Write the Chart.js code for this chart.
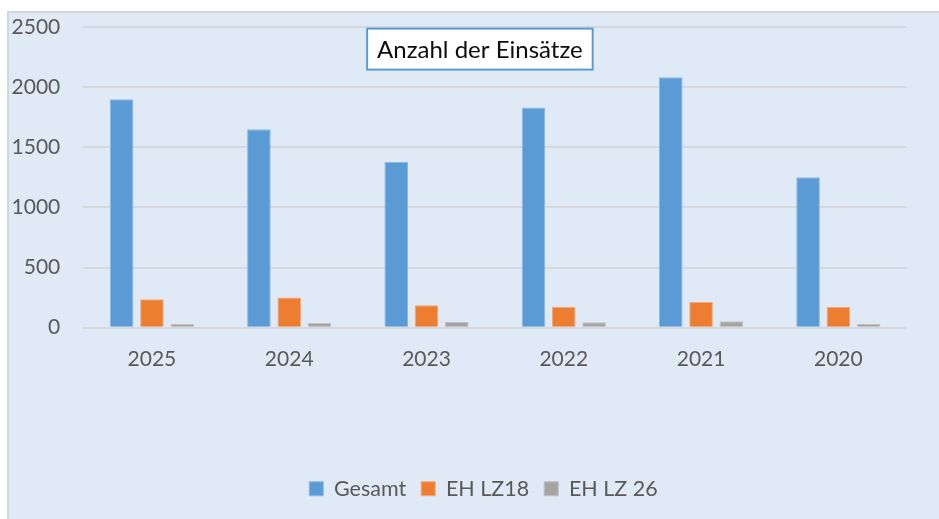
<!DOCTYPE html>
<html><head><meta charset="utf-8">
<script src="https://cdn.jsdelivr.net/npm/chart.js@4.4.0/dist/chart.umd.min.js"></script>
<style>html,body{margin:0;padding:0;background:#fff;overflow:hidden;}#wrap{position:absolute;left:0;top:0;width:939px;height:519px;}</style>
</head><body><div id="wrap"><canvas id="c" width="939" height="519"></canvas></div>
<script>
const categories = ['2025', '2024', '2023', '2022', '2021', '2020'];
const gesamt = [1900, 1650, 1378, 1830, 2082, 1250];
const ehLZ18 = [236, 252, 186, 174, 213, 172];
const ehLZ26 = [31, 39, 47, 45, 53, 31];
const yTicks = [0, 500, 1000, 1500, 2000, 2500];
const seriesNames = ['Gesamt', 'EH LZ18', 'EH LZ 26'];
const titleText = 'Anzahl der Einsätze';

const FONT = 'Lato, "Open Sans", sans-serif';
const LEGEND_PAD = 15;
const LEGEND_H = 56;
const LEGEND_SHIFT = 30;
const XAXIS_H = 519 - LEGEND_H - 327.7;

const bgPlugin = {
  id: 'bgPanel',
  beforeDraw(chart) {
    const ctx = chart.ctx;
    ctx.save();
    ctx.fillStyle = '#ffffff';
    ctx.fillRect(0, 0, chart.width, chart.height);
    ctx.fillStyle = '#dfeaf6';
    ctx.fillRect(8, 12, chart.width - 8, chart.height - 12);
    ctx.strokeStyle = '#d6d6d6';
    ctx.lineWidth = 2;
    ctx.beginPath();
    ctx.moveTo(8, chart.height);
    ctx.lineTo(8, 12);
    ctx.lineTo(chart.width, 12);
    ctx.stroke();
    ctx.restore();
  }
};

const legendFix = {
  id: 'legendFix',
  beforeLayout(chart) {
    const lg = chart.legend;
    if (lg && !lg._fixed) {
      const orig = lg.fit;
      lg.fit = function () { orig.call(this); this.height = LEGEND_H; };
      lg._fixed = true;
    }
  },
  afterLayout(chart) {
    const lg = chart.legend;
    if (lg) { lg.left += LEGEND_SHIFT; lg.right += LEGEND_SHIFT; }
  }
};

const titleBox = {
  id: 'titleBox',
  afterDatasetsDraw(chart) {
    const ctx = chart.ctx;
    const a = chart.chartArea;
    ctx.save();
    ctx.font = '24px ' + FONT;
    const tw = ctx.measureText(titleText).width;
    const cx = a.left + 396.6;
    const cy = a.top + 22.1;
    const w = tw + 20, h = 41;
    ctx.fillStyle = '#ffffff';
    ctx.fillRect(cx - w / 2, cy - h / 2, w, h);
    ctx.strokeStyle = '#5b9bd5';
    ctx.lineWidth = 2;
    ctx.strokeRect(cx - w / 2, cy - h / 2, w, h);
    ctx.fillStyle = '#0d0d0d';
    ctx.textAlign = 'center';
    ctx.textBaseline = 'middle';
    ctx.fillText(titleText, cx, cy + 1);
    ctx.restore();
  }
};

new Chart(document.getElementById('c'), {
  type: 'bar',
  data: {
    labels: categories,
    datasets: [
      { label: seriesNames[0], data: gesamt, backgroundColor: '#5b9bd5', borderColor: '#8ab8e3', borderWidth: 1 },
      { label: seriesNames[1], data: ehLZ18, backgroundColor: '#ed7d31', borderColor: '#f4a878', borderWidth: 1 },
      { label: seriesNames[2], data: ehLZ26, backgroundColor: '#a5a5a5', borderColor: '#bfbfbf', borderWidth: 1 }
    ]
  },
  options: {
    responsive: false,
    devicePixelRatio: 1,
    animation: false,
    layout: { padding: { left: 0, right: 32, top: 27, bottom: 0 } },
    datasets: { bar: { barPercentage: 0.78, categoryPercentage: 0.662 } },
    scales: {
      x: {
        grid: { display: false, drawTicks: false },
        border: { display: false },
        ticks: { color: '#595959', font: { family: FONT, size: 21 }, padding: 19, maxRotation: 0 },
        afterFit(s) { s.height = XAXIS_H; }
      },
      y: {
        min: 0, max: 2500,
        grid: { color: '#d5d9de', lineWidth: 2, drawTicks: true, tickLength: 20, tickColor: 'rgba(0,0,0,0)' },
        border: { display: false },
        ticks: { color: '#595959', font: { family: FONT, size: 21 }, padding: 3, callback: v => String(v) },
        afterBuildTicks(s) { s.ticks = yTicks.map(v => ({ value: v })); },
        afterFit(s) { s.width = 83.3; }
      }
    },
    plugins: {
      title: { display: false },
      tooltip: { enabled: false },
      legend: {
        position: 'bottom',
        labels: { color: '#595959', font: { family: FONT, size: 21.5 }, boxWidth: 14, boxHeight: 14, padding: LEGEND_PAD }
      }
    }
  },
  plugins: [bgPlugin, legendFix, titleBox]
});
</script>
</body></html>
